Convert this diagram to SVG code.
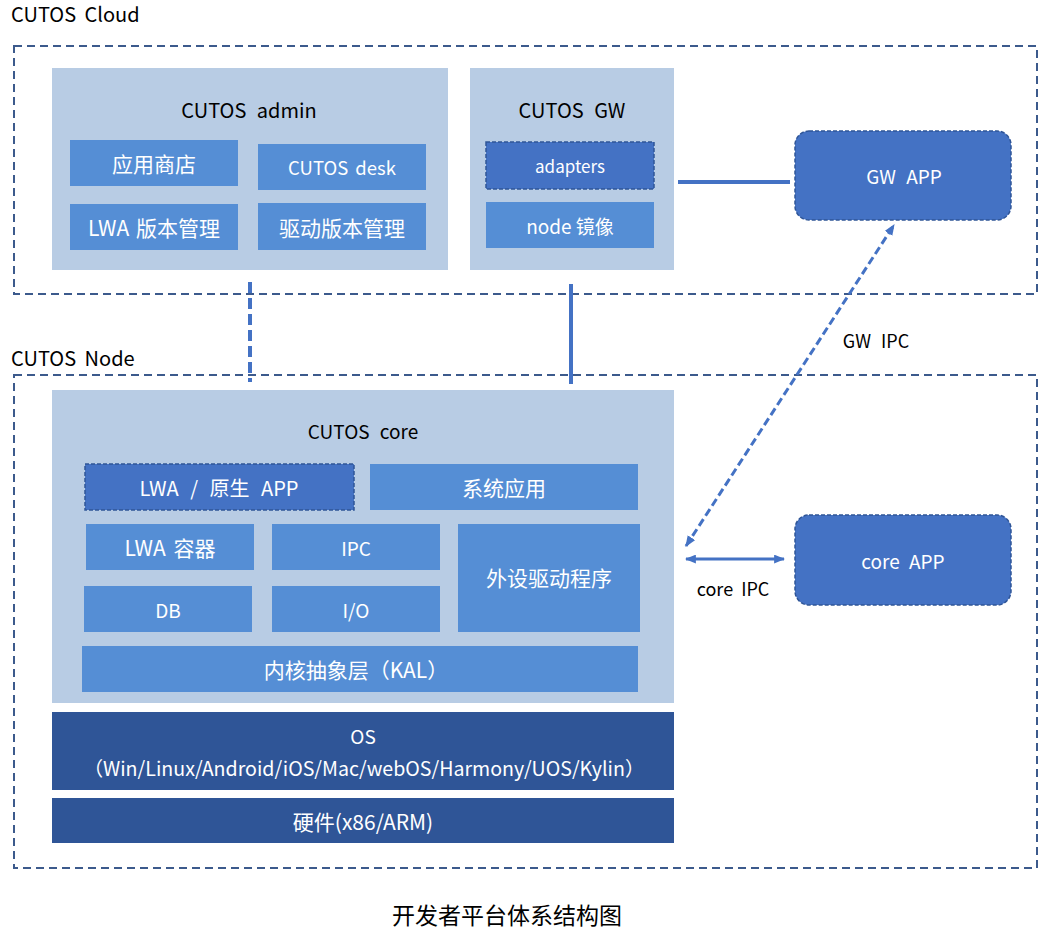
<svg xmlns="http://www.w3.org/2000/svg" width="1054" height="950" viewBox="0 0 1054 950">
<style>
text{font-family:"Noto Sans CJK SC","Noto Sans",sans-serif;text-anchor:middle;dominant-baseline:central}
.zone{fill:none;stroke:#3c5a8c;stroke-width:2;stroke-dasharray:8 5}
.panel{fill:#b8cce4}
.blk{fill:#558ed5}
.dk{fill:#4472c4;stroke:#2f5597;stroke-width:1.5;stroke-dasharray:4 2}
.base{fill:#2f5597}
.w{fill:#ffffff;font-size:21px}
.b{fill:#000000;font-size:20px;word-spacing:6px}
.lbl{fill:#000000;font-size:20px;text-anchor:start;word-spacing:4px}
.conn{stroke:#4472c4;stroke-width:4;fill:none}
.arr{stroke:#4472c4;stroke-width:3;fill:none}
</style>
<defs>
<marker id="ah" viewBox="0 0 10 8" refX="9" refY="4" markerWidth="11" markerHeight="9" markerUnits="userSpaceOnUse" orient="auto-start-reverse">
<path d="M0,0 L10,4 L0,8 z" fill="#4472c4"/>
</marker>
</defs>
<rect width="1054" height="950" fill="#ffffff"/>

<g id="cloud">
<text class="lbl" x="11" y="13">CUTOS Cloud</text>
<rect class="zone" x="14" y="46" width="1023" height="248"/>
</g>

<g id="node-zone">
<text class="lbl" x="11" y="357">CUTOS Node</text>
<rect class="zone" x="14" y="375" width="1023" height="493"/>
</g>

<g id="connectors">
<line class="conn" x1="250" y1="282" x2="250" y2="382" stroke-dasharray="11 5"/>
<line class="conn" x1="571" y1="284" x2="571" y2="384"/>
<line class="conn" x1="678" y1="182" x2="790" y2="182" stroke-width="3.5"/>
<line class="arr" x1="686" y1="546" x2="894" y2="225" stroke-dasharray="8 4" marker-start="url(#ah)" marker-end="url(#ah)"/>
<line class="arr" x1="686" y1="559" x2="784" y2="559" marker-start="url(#ah)" marker-end="url(#ah)"/>
<text class="b" x="876" y="340" style="font-size:18px">GW IPC</text>
<text class="b" x="733" y="588" style="font-size:18px;word-spacing:4px">core IPC</text>
</g>

<g id="admin">
<rect class="panel" x="52" y="68" width="396" height="202"/>
<text class="b" x="249" y="109">CUTOS admin</text>
<rect class="blk" x="70" y="140" width="168" height="46"/>
<text class="w" x="154" y="163">应用商店</text>
<rect class="blk" x="258" y="144" width="168" height="46"/>
<text class="w" x="342" y="167" style="font-size:18.5px;word-spacing:3px">CUTOS desk</text>
<rect class="blk" x="70" y="204" width="168" height="46"/>
<text class="w" x="154" y="227" style="word-spacing:2px">LWA 版本管理</text>
<rect class="blk" x="258" y="203" width="168" height="47"/>
<text class="w" x="342" y="227">驱动版本管理</text>
</g>

<g id="gw">
<rect class="panel" x="470" y="68" width="204" height="202"/>
<text class="b" x="572" y="109">CUTOS GW</text>
<rect class="dk" x="486" y="142" width="168" height="47"/>
<text class="w" x="570" y="165" style="font-size:17px">adapters</text>
<rect class="blk" x="486" y="202" width="168" height="46"/>
<text class="w" x="570" y="225" style="font-size:19px">node 镜像</text>
</g>

<g id="gw-app">
<rect class="dk" x="795" y="131" width="216" height="89" rx="14"/>
<text class="w" x="904" y="175" style="font-size:19px;word-spacing:6px">GW APP</text>
</g>

<g id="core-app">
<rect class="dk" x="795" y="515" width="216" height="90" rx="14"/>
<text class="w" x="903" y="560" style="font-size:19px;word-spacing:5px">core APP</text>
</g>

<g id="core">
<rect class="panel" x="52" y="390" width="622" height="313"/>
<text class="b" x="363" y="430" style="font-size:19px">CUTOS core</text>
<rect class="dk" x="85" y="464" width="269" height="46"/>
<text class="w" x="219" y="487" style="font-size:20px;word-spacing:7px">LWA / 原生 APP</text>
<rect class="blk" x="370" y="464" width="268" height="46"/>
<text class="w" x="504" y="487">系统应用</text>
<rect class="blk" x="86" y="524" width="168" height="46"/>
<text class="w" x="170" y="547" style="word-spacing:3px">LWA 容器</text>
<rect class="blk" x="272" y="524" width="168" height="46"/>
<text class="w" x="356" y="547" style="font-size:19px">IPC</text>
<rect class="blk" x="458" y="524" width="182" height="108"/>
<text class="w" x="549" y="577">外设驱动程序</text>
<rect class="blk" x="84" y="586" width="168" height="46"/>
<text class="w" x="168" y="609" style="font-size:19px">DB</text>
<rect class="blk" x="272" y="586" width="168" height="46"/>
<text class="w" x="356" y="609" style="font-size:19px">I/O</text>
<rect class="blk" x="82" y="646" width="556" height="46"/>
<text class="w" x="356" y="669">内核抽象层（KAL）</text>
</g>

<g id="os">
<rect class="base" x="52" y="712" width="622" height="78"/>
<text class="w" x="363" y="735" style="font-size:19px">OS</text>
<text class="w" x="364" y="767" style="font-size:19.6px">（Win/Linux/Android/iOS/Mac/webOS/Harmony/UOS/Kylin）</text>
</g>

<g id="hw">
<rect class="base" x="52" y="798" width="622" height="45"/>
<text class="w" x="363" y="821">硬件(x86/ARM)</text>
</g>

<g id="caption">
<text class="b" x="507" y="914" style="font-size:23px">开发者平台体系结构图</text>
</g>
</svg>
